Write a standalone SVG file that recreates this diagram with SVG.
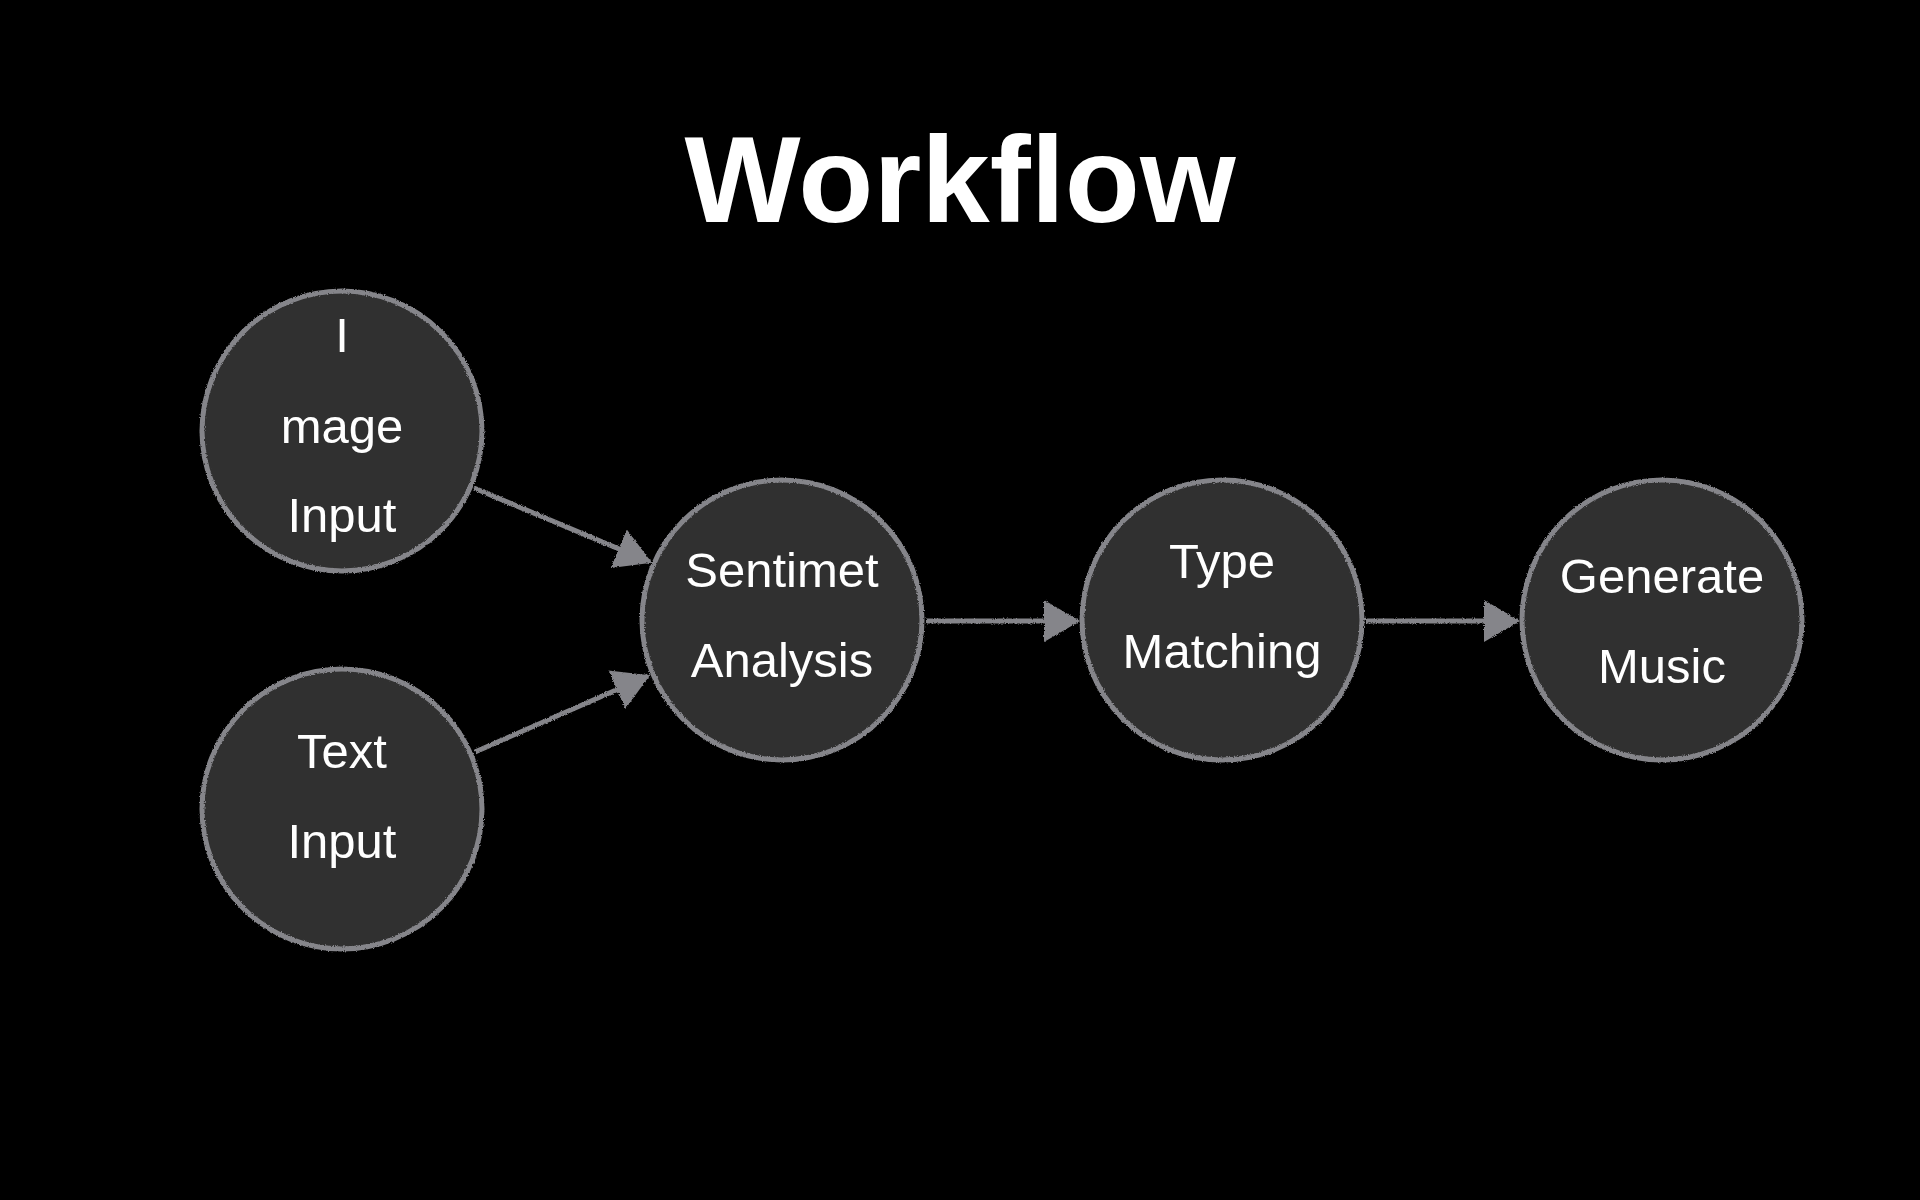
<svg xmlns="http://www.w3.org/2000/svg" width="1920" height="1200" viewBox="0 0 1920 1200">
  <defs>
    <style>
      .bg { fill: #000000; }
      .title { font-family: "Liberation Sans", Arial, sans-serif; font-weight: bold; font-size: 123px; fill: #ffffff; text-anchor: middle; }
      .fill { fill: #303030; }
      .ring { fill: none; stroke: #85858a; stroke-width: 5; filter: url(#rough); }
      .label { font-family: "Liberation Sans", Arial, Helvetica, sans-serif; font-size: 49px; fill: #ffffff; text-anchor: middle; }
      .edge { stroke: #85858a; stroke-width: 5; fill: none; marker-end: url(#arrow); filter: url(#rough); }
    </style>
    <filter id="rough" filterUnits="userSpaceOnUse" x="0" y="0" width="1920" height="1200">
      <feTurbulence type="fractalNoise" baseFrequency="0.9" numOctaves="2" seed="3" result="noise"/>
      <feDisplacementMap in="SourceGraphic" in2="noise" scale="3" xChannelSelector="R" yChannelSelector="G"/>
    </filter>
    <marker id="arrow" viewBox="0 0 36 42" refX="34" refY="21" markerWidth="36" markerHeight="42" markerUnits="userSpaceOnUse" orient="auto">
      <path d="M0,0 L36,21 L0,42 Z" fill="#85858a"/>
    </marker>
  </defs>

  <rect class="bg" x="0" y="0" width="1920" height="1200"/>

  <text class="title" x="960" y="222">Workflow</text>

  <g id="connectors">
    <line class="edge" x1="474" y1="488" x2="650" y2="562"/>
    <line class="edge" x1="475" y1="752" x2="648" y2="676"/>
    <line class="edge" x1="926" y1="621" x2="1078" y2="621"/>
    <line class="edge" x1="1366" y1="621" x2="1518" y2="621"/>
  </g>

  <g id="node-image-input">
    <circle class="fill" cx="342" cy="431" r="140"/>
    <circle class="ring" cx="342" cy="431" r="140"/>
    <text class="label" x="342" y="352">I</text>
    <text class="label" x="342" y="443">mage</text>
    <text class="label" x="342" y="532">Input</text>
  </g>

  <g id="node-text-input">
    <circle class="fill" cx="342" cy="809" r="140"/>
    <circle class="ring" cx="342" cy="809" r="140"/>
    <text class="label" x="342" y="768">Text</text>
    <text class="label" x="342" y="858">Input</text>
  </g>

  <g id="node-sentiment-analysis">
    <circle class="fill" cx="782" cy="620" r="140"/>
    <circle class="ring" cx="782" cy="620" r="140"/>
    <text class="label" x="782" y="587">Sentimet</text>
    <text class="label" x="782" y="677">Analysis</text>
  </g>

  <g id="node-type-matching">
    <circle class="fill" cx="1222" cy="620" r="140"/>
    <circle class="ring" cx="1222" cy="620" r="140"/>
    <text class="label" x="1222" y="578">Type</text>
    <text class="label" x="1222" y="668">Matching</text>
  </g>

  <g id="node-generate-music">
    <circle class="fill" cx="1662" cy="620" r="140"/>
    <circle class="ring" cx="1662" cy="620" r="140"/>
    <text class="label" x="1662" y="593">Generate</text>
    <text class="label" x="1662" y="683">Music</text>
  </g>
</svg>
